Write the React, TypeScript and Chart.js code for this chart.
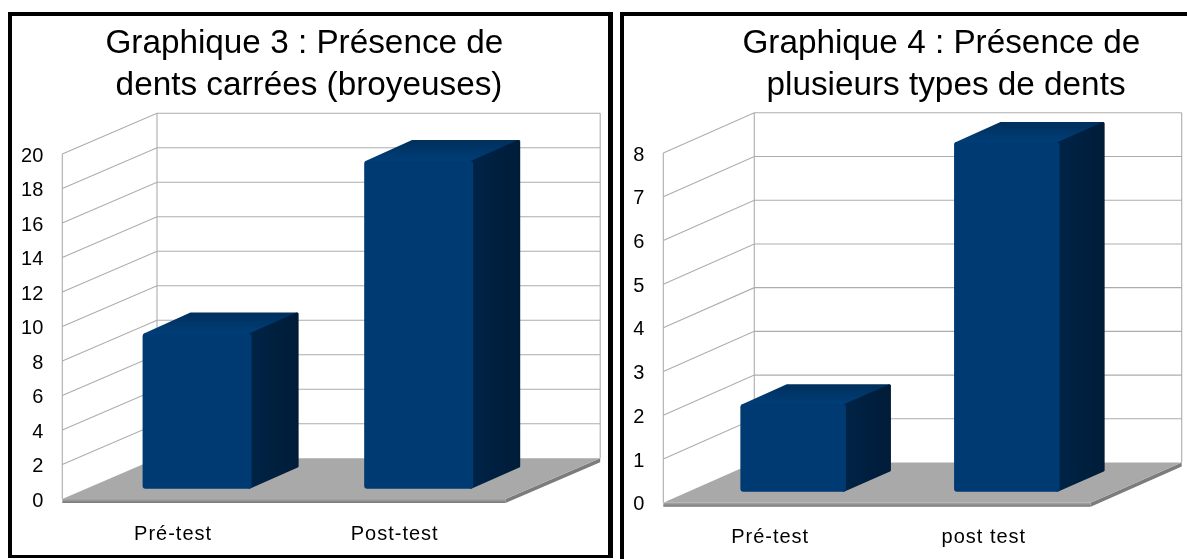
import React, { useEffect, useRef } from "react";
import { Chart, registerables } from "chart.js";

Chart.register(...registerables);

const titleLeft = ["Graphique 3 : Présence de ", "dents carrées (broyeuses)"];
const categoriesLeft = ["Pré-test", "Post-test"];
const valuesLeft = [9, 19];
const maxLeft = 20;
const stepLeft = 2;

const titleRight = ["Graphique 4 : Présence de ", "plusieurs types de dents"];
const categoriesRight = ["Pré-test", "post test"];
const valuesRight = [2, 8];
const maxRight = 8;
const stepRight = 1;

const FONT = "'Liberation Sans', Arial, sans-serif";

type PanelProps = {
  title: string[];
  categories: string[];
  values: number[];
  max: number;
  step: number;
  left: number;
  top: number;
  width: number;
  height: number;
  plot: { l: number; r: number; t: number; b: number };
  titleCenter: number;
  wall: [number, number];
  barShift: [number, number];
  barDepth: [number, number];
  barPct: number;
  tickGap: number;
};

function Panel(p: PanelProps) {
  const ref = useRef<HTMLCanvasElement>(null);
  useEffect(() => {
    if (!ref.current) return;
    const [wx, wy] = p.wall;
    const [sx, sy] = p.barShift;
    const [dx, dy] = p.barDepth;
    const poly = (ctx: CanvasRenderingContext2D, pts: number[][]) => {
      ctx.beginPath();
      pts.forEach((q, i) => (i ? ctx.lineTo(q[0], q[1]) : ctx.moveTo(q[0], q[1])));
      ctx.closePath();
    };
    const scenePlugin = {
      id: "scene3d",
      afterLayout(chart: any) {
        const half = 280;
        chart.titleBlock.left = p.titleCenter - half;
        chart.titleBlock.right = p.titleCenter + half;
        const xs = chart.scales.x;
        if (!xs.__spaced) {
          xs.__spaced = true;
          const orig = xs.drawLabels.bind(xs);
          xs.drawLabels = (area: any) => {
            chart.ctx.save();
            chart.ctx.letterSpacing = "1px";
            orig(area);
            chart.ctx.restore();
          };
        }
      },
      beforeDatasetsDraw(chart: any) {
        const { ctx, chartArea: a, scales } = chart;
        const y = scales.y;
        const y0 = y.getPixelForValue(0);
        const yM = y.getPixelForValue(p.max);
        ctx.save();
        ctx.strokeStyle = "#adadad";
        ctx.lineWidth = 1.1;
        ctx.beginPath();
        for (const t of y.ticks) {
          const py = y.getPixelForValue(t.value);
          if (t.value === 0) continue;
          ctx.moveTo(a.left, py);
          ctx.lineTo(a.left + wx, py + wy);
          ctx.lineTo(a.right + wx, py + wy);
        }
        ctx.moveTo(a.left, yM);
        ctx.lineTo(a.left, y0);
        ctx.moveTo(a.left + wx, yM + wy);
        ctx.lineTo(a.left + wx, y0 + wy);
        ctx.moveTo(a.right + wx, yM + wy);
        ctx.lineTo(a.right + wx, y0 + wy);
        ctx.stroke();
        // floor edge
        const edge = ctx.createLinearGradient(0, y0, 0, y0 + 4);
        edge.addColorStop(0, "#a8a8a8");
        edge.addColorStop(1, "#767676");
        ctx.fillStyle = edge;
        poly(ctx, [
          [a.left, y0],
          [a.right, y0],
          [a.right, y0 + 4],
          [a.left, y0 + 4],
        ]);
        ctx.fill();
        ctx.fillStyle = "#7c7c7c";
        poly(ctx, [
          [a.right, y0],
          [a.right + wx, y0 + wy],
          [a.right + wx, y0 + wy + 4],
          [a.right, y0 + 4],
        ]);
        ctx.fill();
        // floor
        ctx.fillStyle = "#a9a9a9";
        poly(ctx, [
          [a.left, y0],
          [a.right, y0],
          [a.right + wx, y0 + wy],
          [a.left + wx, y0 + wy],
        ]);
        ctx.fill();
        ctx.restore();
      },
      beforeDatasetDraw(chart: any, args: any) {
        const { ctx } = chart;
        const els = chart.getDatasetMeta(args.index).data;
        ctx.save();
        ctx.translate(sx, sy);
        ctx.lineJoin = "round";
        for (const el of els) {
          const l = el.x - el.width / 2;
          const r = el.x + el.width / 2;
          const t = el.y;
          const b = el.base;
          // top face
          const top = ctx.createLinearGradient(0, t + dy, 0, t);
          top.addColorStop(0, "#002f5b");
          top.addColorStop(1, "#003e78");
          ctx.fillStyle = top;
          ctx.strokeStyle = top;
          ctx.lineWidth = 3;
          poly(ctx, [
            [l + 2, t + 1.5],
            [l + dx + 1.5, t + dy + 1.5],
            [r + dx - 2, t + dy + 1.5],
            [r, t + 2],
          ]);
          ctx.fill();
          ctx.stroke();
          // side face
          const side = ctx.createLinearGradient(r, 0, r + dx, 0);
          side.addColorStop(0, "#002346");
          side.addColorStop(1, "#001c38");
          ctx.fillStyle = side;
          ctx.strokeStyle = side;
          ctx.lineWidth = 3;
          poly(ctx, [
            [r - 2, t + 1.5],
            [r + dx - 1.5, t + dy + 1.5],
            [r + dx - 1.5, b + dy - 1.5],
            [r - 2, b - 1.5],
          ]);
          ctx.fill();
          ctx.stroke();
        }
      },
      afterDatasetDraw(chart: any) {
        chart.ctx.restore();
      },
    };
    const chart = new Chart(ref.current, {
      type: "bar",
      data: {
        labels: p.categories,
        datasets: [
          {
            data: p.values,
            backgroundColor: "#003a72",
            borderRadius: 3,
            borderSkipped: false,
            borderWidth: 0,
            categoryPercentage: 1,
            barPercentage: p.barPct,
            clip: false,
          } as any,
        ],
      },
      options: {
        animation: false,
        responsive: false,
        layout: {
          padding: { left: 0, top: 0, right: p.width - p.plot.r, bottom: 0 },
        },
        plugins: {
          legend: { display: false },
          tooltip: { enabled: false },
          title: {
            display: true,
            text: p.title,
            color: "#000000",
            font: { family: FONT, size: 33.3, weight: "normal", lineHeight: 42 / 33.3 },
            padding: { top: 7, bottom: p.plot.t - 91 },
          },
        },
        scales: {
          x: {
            grid: { display: false },
            border: { display: false },
            afterFit(s: any) {
              s.height = p.height - p.plot.b;
            },
            ticks: {
              color: "#000000",
              font: { family: FONT, size: 20 },
              padding: p.tickGap,
              maxRotation: 0,
              autoSkip: false,
            },
          },
          y: {
            min: 0,
            max: p.max,
            grid: { display: false, drawTicks: false },
            border: { display: false },
            afterFit(s: any) {
              s.width = p.plot.l;
            },
            ticks: {
              stepSize: p.step,
              color: "#000000",
              font: { family: FONT, size: 20 },
              padding: 19,
              labelOffset: 2,
            },
          },
        },
      },
      plugins: [scenePlugin as any],
    });
    return () => chart.destroy();
  }, []);
  return (
    <canvas
      ref={ref}
      width={p.width}
      height={p.height}
      style={{ position: "absolute", left: p.left, top: p.top, display: "block" }}
    />
  );
}

export default function App() {
  return (
    <div style={{ position: "fixed", left: 0, top: 0, width: 1187, height: 559, overflow: "hidden", background: "#fff" }}>
      <div
        style={{
          position: "absolute",
          left: 8,
          top: 12,
          width: 596,
          height: 539,
          borderStyle: "solid",
          borderColor: "#000",
          borderWidth: "4px 5px 3.5px 4px",
        }}
      />
      <div
        style={{
          position: "absolute",
          left: 620,
          top: 12,
          width: 600,
          height: 600,
          borderStyle: "solid",
          borderColor: "#000",
          borderWidth: "4px 0 0 4px",
        }}
      />
      <Panel
        title={titleLeft}
        categories={categoriesLeft}
        values={valuesLeft}
        max={maxLeft}
        step={stepLeft}
        left={12}
        top={16}
        width={596}
        height={539}
        plot={{ l: 50.3, r: 493.5, t: 138, b: 483 }}
        titleCenter={297}
        wall={[94.7, -40.7]}
        barShift={[24, -10.3]}
        barDepth={[47, -21]}
        barPct={0.492}
        tickGap={15}
      />
      <Panel
        title={titleRight}
        categories={categoriesRight}
        values={valuesRight}
        max={maxRight}
        step={stepRight}
        left={624}
        top={16}
        width={563}
        height={543}
        plot={{ l: 39.3, r: 466.7, t: 137, b: 486.7 }}
        titleCenter={322}
        wall={[91, -40.2]}
        barShift={[23, -11]}
        barDepth={[45, -20]}
        barPct={0.494}
        tickGap={15}
      />
    </div>
  );
}
